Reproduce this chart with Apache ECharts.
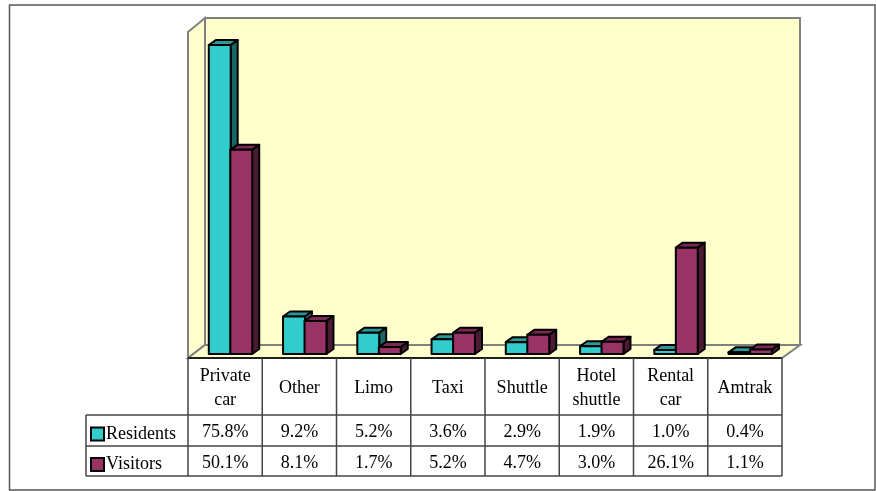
<!DOCTYPE html>
<html>
<head>
<meta charset="utf-8">
<style>html,body{margin:0;padding:0;background:#fff}#main{width:876px;height:491px}</style>
<script src="https://cdn.jsdelivr.net/npm/echarts@6/dist/echarts.min.js"></script>
</head>
<body>
<div id="main"></div>
<script>
var categories=['Private\ncar','Other','Limo','Taxi','Shuttle','Hotel\nshuttle','Rental\ncar','Amtrak'];
var residents=[75.8,9.2,5.2,3.6,2.9,1.9,1.0,0.4];
var visitors=[50.1,8.1,1.7,5.2,4.7,3.0,26.1,1.1];

var font='"Liberation Serif","Times New Roman",serif';
var gridLeft=188,gridRight=782,baseY=354,maxVal=80,topY=28;
var dx=7,dy=5; // depth of the bars
var chart=echarts.init(document.getElementById('main'));

// one 3d bar : front, top, side
function bar3d(color,topColor,sideColor,shift){
	return function(params,api){
		var band=api.size([1,0])[0];
		var w=band*0.295;
		var p=api.coord([api.value(0),api.value(1)]);
		var b=api.coord([api.value(0),0]);
		var x=p[0]+shift*band;
		var line={stroke:'#000',lineWidth:2,lineJoin:'round'};
		return {type:'group',children:[
			{type:'polygon',shape:{points:[[x,p[1]],[x+dx,p[1]-dy],[x+w+dx,p[1]-dy],[x+w,p[1]]]},
				style:Object.assign({fill:topColor},line)},
			{type:'polygon',shape:{points:[[x+w,p[1]],[x+w+dx,p[1]-dy],[x+w+dx,b[1]-dy],[x+w,b[1]]]},
				style:Object.assign({fill:sideColor},line)},
			{type:'rect',shape:{x:x,y:p[1],width:w,height:b[1]-p[1]},
				style:Object.assign({fill:color},line)}
		]};
	};
}
function pairs(arr){
	return arr.map(function(v,i){return [i,v];});
}

// table + walls
var band=(gridRight-gridLeft)/categories.length;
var rowY=[415,446,476],headY=358,tableLeft=86;
var gfx=[];
var wall={fill:'#FFFFCC',stroke:'#808080',lineWidth:2};
gfx.push({type:'rect',z:0,shape:{x:9.5,y:5,width:865.5,height:485},style:{fill:'#fff',stroke:'#555',lineWidth:1.5}});
gfx.push({type:'polygon',z:1,shape:{points:[[188,32],[205,18],[205,345],[188,358]]},style:wall});
gfx.push({type:'polygon',z:1,shape:{points:[[188,358],[205,345],[800,345],[782,358]]},style:wall});
gfx.push({type:'rect',z:1,shape:{x:205,y:18,width:595,height:327},style:wall});
function tline(x1,y1,x2,y2,c){
	gfx.push({type:'line',z:1,shape:{x1:x1,y1:y1,x2:x2,y2:y2},style:{stroke:c||'#444',lineWidth:1.5}});
}
tline(gridLeft,headY,gridRight,headY,'#000');
rowY.forEach(function(y){tline(tableLeft,y,gridRight,y);});
tline(tableLeft,rowY[0],tableLeft,rowY[2]);
for(var i=0;i<=categories.length;i++){
	tline(gridLeft+i*band,headY,gridLeft+i*band,rowY[2]);
}
[residents,visitors].forEach(function(arr,r){
	arr.forEach(function(v,i){
		gfx.push({type:'text',z:3,x:gridLeft+(i+0.5)*band,y:(rowY[r]+rowY[r+1])/2+2,
			style:{text:v.toFixed(1)+'%',font:'18px '+font,fill:'#000',textAlign:'center',textVerticalAlign:'middle'}});
	});
});

var option={
	animation:false,
	backgroundColor:'#fff',
	grid:{left:gridLeft,right:876-gridRight,top:topY,bottom:491-baseY},
	xAxis:{type:'category',data:categories,
		axisLine:{show:false},axisTick:{show:false},splitLine:{show:false},
		axisLabel:{interval:0,margin:34,verticalAlign:'middle',color:'#000',fontFamily:font,fontSize:18,lineHeight:24}},
	yAxis:{type:'value',min:0,max:maxVal,show:false},
	legend:{orient:'vertical',left:85,top:420,itemWidth:13,itemHeight:13,itemGap:12.5,
		textStyle:{fontFamily:font,fontSize:18,color:'#000',padding:[0,0,0,-3]},
		data:[{name:'Residents',icon:'rect'},{name:'Visitors',icon:'rect'}]},
	graphic:{elements:gfx},
	series:[
		{name:'Residents',type:'custom',z:5,itemStyle:{color:'#33CCCC',borderColor:'#000',borderWidth:2},
			encode:{x:0,y:1},data:pairs(residents),renderItem:bar3d('#33CCCC','#299999','#1A6666',-0.22)},
		{name:'Visitors',type:'custom',z:6,itemStyle:{color:'#993366',borderColor:'#000',borderWidth:2},
			encode:{x:0,y:1},data:pairs(visitors),renderItem:bar3d('#993366','#7A2952','#4D1A33',0.07)}
	]
};
chart.setOption(option);
</script>
</body>
</html>
